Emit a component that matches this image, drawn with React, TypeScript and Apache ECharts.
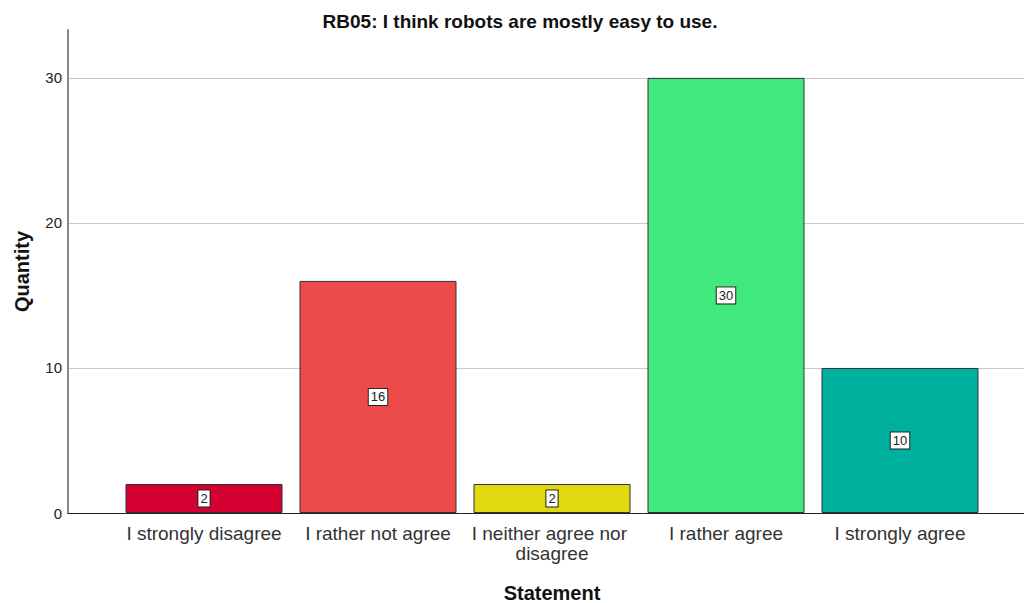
import React, { useEffect, useRef } from "react";
import * as echarts from "echarts";

const titleText = "RB05: I think robots are mostly easy to use.";
const categories = [
  "I strongly disagree",
  "I rather not agree",
  "I neither agree nor disagree",
  "I rather agree",
  "I strongly agree",
];
const quantities = [2, 16, 2, 30, 10];
const barColors = ["#d50032", "#ed4a4a", "#e2d80e", "#41e87d", "#00b09f"];
const yTicks = [0, 10, 20, 30];
const yMax = 33.3;
const xTitle = "Statement";
const yTitle = "Quantity";

const FONT = "'Liberation Sans', Arial, sans-serif";

export default function App() {
  const ref = useRef<HTMLDivElement>(null);
  useEffect(() => {
    if (!ref.current) return;
    const chart = echarts.init(ref.current, undefined, { renderer: "svg" });
    chart.setOption({
      animation: false,
      backgroundColor: "#ffffff",
      title: {
        text: titleText,
        left: 515,
        top: 7,
        textAlign: "center",
        textStyle: { fontFamily: FONT, fontSize: 19, fontWeight: "bold", color: "#111" },
      },
      grid: [
        { left: 68, right: 0, top: 30, bottom: 90, outerBoundsMode: "none", containLabel: false },
        { left: 117, right: 37, top: 30, bottom: 90, outerBoundsMode: "none", containLabel: false },
      ],
      xAxis: [
        {
          gridIndex: 0,
          type: "value",
          min: 0,
          max: 1,
          axisLine: { show: true, lineStyle: { color: "#222", width: 1 } },
          axisTick: { show: false },
          axisLabel: { show: false },
          splitLine: { show: false },
        },
        {
          gridIndex: 1,
          type: "category",
          data: categories,
          axisLine: { show: false },
          axisTick: { show: false },
          axisLabel: {
            interval: 0,
            margin: 10,
            fontFamily: FONT,
            fontSize: 19,
            color: "#333",
            width: 172,
            overflow: "break",
            lineHeight: 20,
          },
          name: xTitle,
          nameLocation: "middle",
          nameGap: 70,
          nameTextStyle: { fontFamily: FONT, fontSize: 20, fontWeight: "bold", color: "#111" },
        },
      ],
      yAxis: [
        {
          gridIndex: 0,
          type: "value",
          min: 0,
          max: yMax,
          interval: 10,
          axisLine: { show: true, lineStyle: { color: "#888", width: 2 } },
          axisTick: { show: false },
          axisLabel: {
            fontFamily: FONT,
            fontSize: 15,
            color: "#222",
            margin: 6,
            showMaxLabel: false,
            formatter: (v: number) => (yTicks.includes(v) ? String(v) : ""),
          },
          splitLine: {
            show: true,
            showMaxLine: false,
            showMinLine: false,
            lineStyle: { color: "#c8c8c8", width: 1 },
          },
          name: yTitle,
          nameLocation: "middle",
          nameGap: 36,
          nameTextStyle: { fontFamily: FONT, fontSize: 20, fontWeight: "bold", color: "#111" },
        },
        {
          gridIndex: 1,
          type: "value",
          min: 0,
          max: yMax,
          show: false,
        },
      ],
      series: [
        {
          type: "bar",
          xAxisIndex: 1,
          yAxisIndex: 1,
          barWidth: 157,
          data: quantities.map((v, i) => ({
            value: v,
            itemStyle: { color: barColors[i] },
          })),
          itemStyle: { borderColor: "#333", borderWidth: 1 },
          label: {
            show: true,
            position: "inside",
            fontFamily: FONT,
            fontSize: 13,
            lineHeight: 14,
            color: "#222",
            backgroundColor: "#ffffff",
            borderColor: "#222",
            borderWidth: 1,
            padding: [1, 2, 1, 2],
          },
        },
      ],
    });
    return () => chart.dispose();
  }, []);
  return <div ref={ref} style={{ position: "fixed", left: 0, top: 0, width: 1024, height: 603 }} />;
}
